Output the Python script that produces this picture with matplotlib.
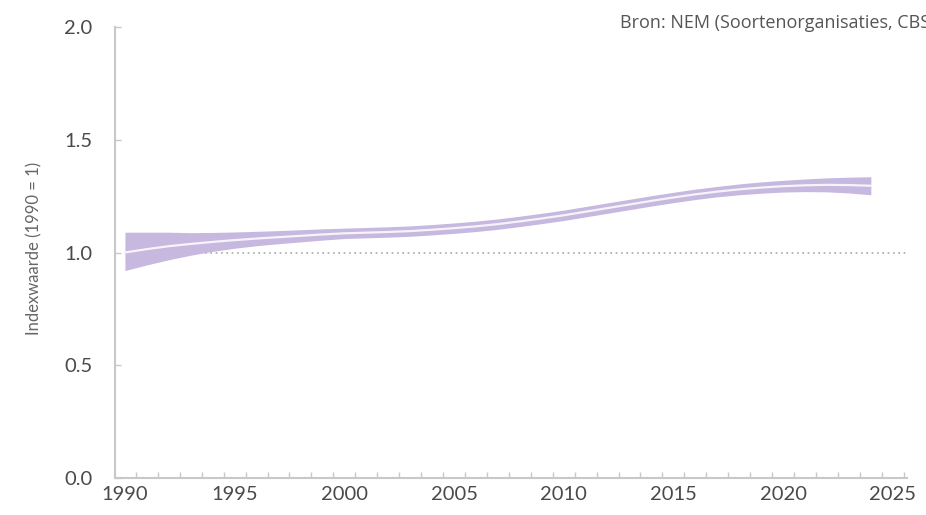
import numpy as np
import matplotlib.pyplot as plt

# Trend index (1990 = 1), one value per year
years = list(range(1990, 2025))
trend = [1.000, 1.015, 1.028, 1.038, 1.047, 1.055, 1.062, 1.068, 1.074, 1.080,
         1.085, 1.088, 1.091, 1.095, 1.101, 1.108, 1.116, 1.126, 1.138, 1.151,
         1.165, 1.181, 1.197, 1.213, 1.229, 1.244, 1.258, 1.270, 1.280, 1.288,
         1.294, 1.298, 1.300, 1.299, 1.296]
upper = [1.090, 1.090, 1.090, 1.088, 1.089, 1.091, 1.094, 1.097, 1.101, 1.105,
         1.108, 1.111, 1.114, 1.118, 1.124, 1.131, 1.139, 1.149, 1.161, 1.174,
         1.188, 1.204, 1.220, 1.236, 1.252, 1.267, 1.281, 1.293, 1.304, 1.313,
         1.320, 1.326, 1.331, 1.334, 1.336]
lower = [0.920, 0.945, 0.968, 0.988, 1.005, 1.019, 1.030, 1.039, 1.047, 1.055,
         1.062, 1.065, 1.068, 1.072, 1.078, 1.085, 1.093, 1.103, 1.115, 1.128,
         1.142, 1.158, 1.174, 1.190, 1.206, 1.221, 1.235, 1.247, 1.256, 1.263,
         1.268, 1.270, 1.269, 1.264, 1.256]

xticks = [1990, 1995, 2000, 2005, 2010, 2015, 2020, 2025]
yticks = [0.0, 0.5, 1.0, 1.5, 2.0]

plt.rcParams['font.family'] = ['Lato', 'DejaVu Sans']

fig = plt.figure(figsize=(9.26, 5.15), dpi=100)
ax = fig.add_axes([0.124, 0.0718, 0.8553, 0.8758])

# reference line
ax.plot([1990, 2025.6], [1, 1], color='#a8a8a8', lw=1.2, ls=(0, (1, 2.2)), zorder=1)

# band + trend line
ax.fill_between(years, lower, upper, color='#c6b8de', lw=0, zorder=2)
ax.plot(years, trend, color='#f6f3fb', lw=1.6, zorder=3)

ax.set_xlim(1989.54, 2025.64)
ax.set_ylim(0, 2.0)

ax.set_xticks(xticks)
ax.set_xticklabels([str(x) for x in xticks])
ax.set_xticks(np.arange(1990.5, 2026, 1), minor=True)
ax.set_yticks(yticks)
ax.set_yticklabels(['%.1f' % y for y in yticks])

ax.tick_params(axis='x', which='major', length=0, pad=6, labelsize=14.5, labelcolor='#4a4a4a')
ax.tick_params(axis='x', which='minor', direction='in', length=4, color='#c8c8c8', width=1)
ax.tick_params(axis='y', direction='in', length=4, color='#c8c8c8', width=1,
               pad=16, labelsize=14.5, labelcolor='#4a4a4a')

for s in ['top', 'right']:
    ax.spines[s].set_visible(False)
for s in ['left', 'bottom']:
    ax.spines[s].set_color('#c8c8c8')
    ax.spines[s].set_linewidth(1.5)

ax.set_ylabel('Indexwaarde (1990 = 1)', fontsize=12, color='#666666')
ax.yaxis.set_label_coords(-0.092, 0.51)

# source note, cut off at the right edge as in the original
fig.text(620 / 926, 1 - 23 / 515, 'Bron: NEM (Soortenorganisaties, CBS)',
         fontsize=13, color='#555555', family=['Open Sans', 'DejaVu Sans'], va='center', ha='left')

fig.savefig('out.png', dpi=100)
